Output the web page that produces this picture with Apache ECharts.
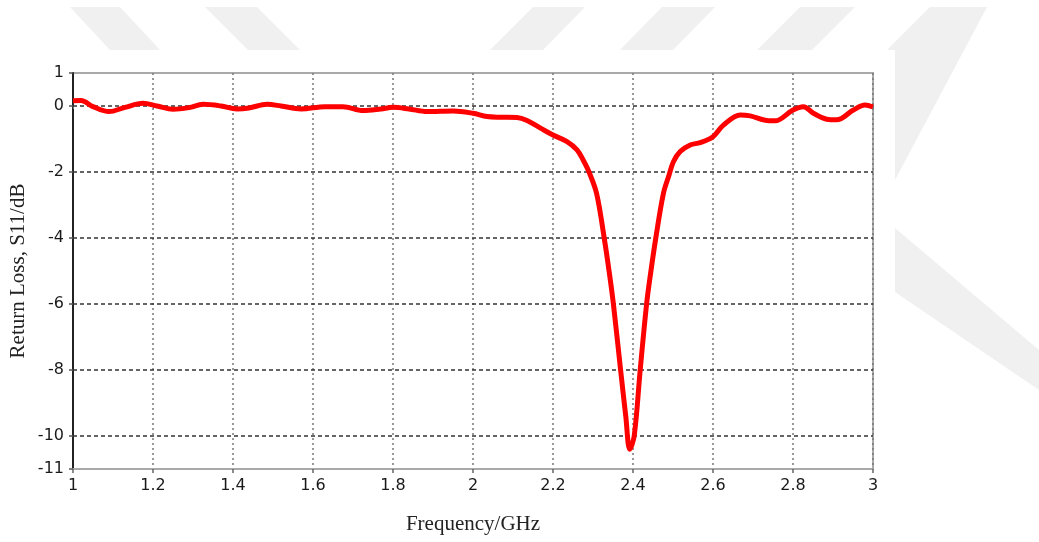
<!DOCTYPE html>
<html>
<head>
<meta charset="utf-8">
<script src="https://cdn.jsdelivr.net/npm/echarts@6/dist/echarts.min.js"></script>
<style>html,body{margin:0;padding:0;background:#fff}#c{width:1039px;height:542px}</style>
</head>
<body>
<div id="c"></div>
<script>
// Frequency (GHz) sample points
var freq = [1.00,1.02,1.05,1.09,1.13,1.175,1.21,1.25,1.29,1.325,1.37,1.41,1.44,1.485,1.52,1.57,1.63,1.675,1.725,1.77,1.80,1.84,1.885,1.95,2.00,2.035,2.07,2.11,2.135,2.17,2.20,2.235,2.26,2.275,2.29,2.309,2.328,2.341,2.351,2.369,2.382,2.392,2.403,2.418,2.434,2.444,2.457,2.476,2.490,2.501,2.518,2.543,2.568,2.60,2.626,2.668,2.693,2.74,2.755,2.80,2.826,2.851,2.884,2.909,2.951,2.98,3.00];
// Return loss S11 (dB)
var s11 = [0.16,0.17,-0.02,-0.17,-0.04,0.08,0.0,-0.1,-0.05,0.05,0.0,-0.09,-0.06,0.05,0.0,-0.09,-0.02,-0.02,-0.14,-0.09,-0.04,-0.09,-0.17,-0.15,-0.22,-0.32,-0.34,-0.35,-0.44,-0.68,-0.88,-1.08,-1.33,-1.63,-2.0,-2.65,-4.0,-5.07,-6.0,-8.0,-9.41,-10.4,-10.0,-8.0,-6.0,-5.07,-4.0,-2.65,-2.1,-1.69,-1.38,-1.18,-1.11,-0.93,-0.58,-0.27,-0.3,-0.45,-0.45,-0.12,-0.02,-0.22,-0.40,-0.42,-0.12,0.03,-0.03];
var yTickValues = [1,0,-2,-4,-6,-8,-10,-11];
var yGridValues = [0,-2,-4,-6,-8,-10];
var xLabel = 'Frequency/GHz';
var yLabel = 'Return Loss, S11/dB';

var data = freq.map(function(f,i){return [f, s11[i]];});
var wm = '#f0f0f0';
var chart = echarts.init(document.getElementById('c'), null, {renderer:'canvas'});
chart.setOption({
  animation:false,
  backgroundColor:'#fff',
  graphic:[
    {type:'polygon', z:-5, shape:{points:[[70,7],[120,7],[160,50],[110,50]]}, style:{fill:wm}},
    {type:'polygon', z:-5, shape:{points:[[205,7],[257,7],[300,50],[248,50]]}, style:{fill:wm}},
    {type:'polygon', z:-5, shape:{points:[[533,7],[585,7],[543,50],[490,50]]}, style:{fill:wm}},
    {type:'polygon', z:-5, shape:{points:[[662,7],[715,7],[673,50],[620,50]]}, style:{fill:wm}},
    {type:'polygon', z:-5, shape:{points:[[800,7],[855,7],[812,50],[757,50]]}, style:{fill:wm}},
    {type:'polygon', z:-5, shape:{points:[[930,7],[987,7],[895,180],[895,50],[887,50]]}, style:{fill:wm}},
    {type:'polygon', z:-5, shape:{points:[[895,228],[1039,350],[1039,390],[895,292]]}, style:{fill:wm}}
  ],
  grid:{left:73,right:166,top:73,bottom:73,outerBoundsMode:'none',containLabel:false,show:true,borderColor:'#a9a9a9',borderWidth:2,backgroundColor:'#fff'},
  xAxis:[{
    type:'value',min:1,max:3,interval:0.2,position:'bottom',
    name:xLabel,nameLocation:'middle',nameGap:45,nameMoveOverlap:false,
    nameTextStyle:{fontFamily:'Liberation Serif',fontSize:21,color:'#222'},
    axisLine:{show:true,onZero:false,lineStyle:{color:'#a9a9a9',width:2}},
    axisTick:{show:true,length:4,lineStyle:{color:'#666',width:1.5}},
    axisLabel:{fontFamily:'DejaVu Sans',fontSize:16,color:'#1a1a1a',margin:9,
      formatter:function(v){return String(+v.toFixed(1));}},
    splitLine:{show:true,lineStyle:{color:'#777',type:[2,3],width:1.5}}
  },{
    type:'value',min:1,max:3,interval:0.2,position:'top',
    axisLine:{show:false},axisTick:{show:true,inside:true,length:3,lineStyle:{color:'#777'}},
    axisLabel:{show:false},splitLine:{show:false}
  }],
  yAxis:{
    type:'value',min:-11,max:1,interval:1,
    name:yLabel,nameLocation:'middle',nameGap:44,nameRotate:90,nameMoveOverlap:false,
    nameTextStyle:{fontFamily:'Liberation Serif',fontSize:21,color:'#222'},
    axisLine:{show:true,onZero:false,lineStyle:{color:'#222',width:2}},
    axisTick:{show:true,length:4,customValues:yTickValues,lineStyle:{color:'#555',width:1.5}},
    axisLabel:{fontFamily:'DejaVu Sans',fontSize:16,color:'#1a1a1a',margin:9,customValues:yTickValues,
      formatter:function(v){return yTickValues.indexOf(v)>=0?String(v):'';}},
    splitLine:{show:false}
  },
  series:[{
    type:'line',data:data,smooth:0.35,showSymbol:false,
    lineStyle:{color:'#ff0000',width:5},
    z:5,
    markLine:{
      silent:true,symbol:'none',animation:false,
      label:{show:false},
      lineStyle:{color:'#333',type:[4,3],width:1.5},
      data:yGridValues.map(function(v){return {yAxis:v};})
    }
  }]
});
</script>
</body>
</html>
